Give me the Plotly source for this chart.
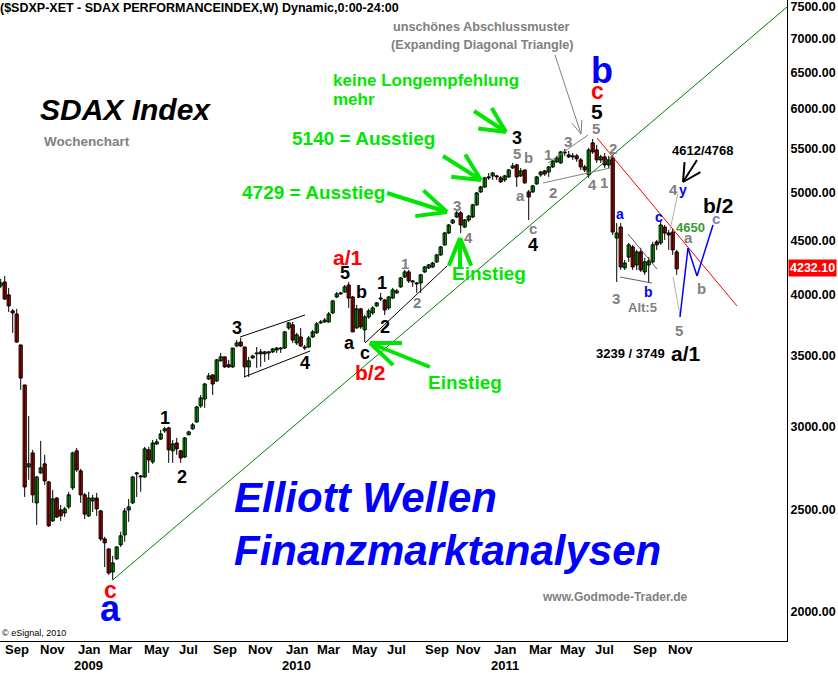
import math
import pandas as pd
import plotly.graph_objects as go

# ---------------- data (weekly SDAX candles) ----------------
start_week = "2008-08-04"
opens = [4078,4113,3998,3861,3835,3584,3284,2746,2831,2538,
         2710,2764,2657,2440,2565,2499,2483,2516,2623,2844,
         2722,2583,2467,2549,2565,2494,2346,2295,2183,2246,
         2316,2367,2499,2538,2710,2692,2686,2850,2776,2887,
         2918,2971,2990,2844,2893,2844,2806,2945,2984,3029,
         3137,3185,3327,3357,3313,3462,3492,3432,3416,3576,
         3607,3568,3416,3484,3515,3530,3515,3522,3530,3545,
         3553,3560,3720,3745,3600,3647,3568,3568,3647,3680,
         3761,3769,3769,3844,3980,4007,4024,4086,3980,3720,
         3878,3704,3810,3844,3903,3962,3954,3886,3971,4016,
         4069,4158,4204,4122,4104,4104,4204,4241,4250,4297,
         4363,4460,4577,4678,4740,4783,4637,4709,4740,4867,
         5007,5062,5163,5185,5185,5163,5140,5174,5276,5311,
         5185,5253,5007,5007,5096,5197,5242,5230,5288,5347,
         5335,5452,5429,5405,5417,5370,5288,5197,5573,5488,
         5370,5405,5311,5393,4527,4637,4241,4343,4440,4269,
         4392,4204,4269,4297,4489,4479,4637,4577,4587,4392]
highs = [4140,4167,4060,3878,3878,3584,3284,3069,2850,2692,
         2906,2819,2663,2611,2571,2527,2516,2600,2838,2862,
         2734,2594,2600,2583,2594,2499,2357,2300,2261,2310,
         2383,2510,2560,2692,2716,2698,2869,2869,2912,2918,
         2977,2997,2997,2912,2925,2850,2931,2971,3023,3137,
         3213,3299,3372,3357,3477,3522,3492,3469,3560,3623,
         3639,3568,3492,3507,3568,3553,3537,3537,3560,3568,
         3568,3696,3769,3769,3680,3720,3584,3655,3704,3769,
         3785,3802,3852,3954,4024,4024,4086,4113,3989,3912,
         3886,3827,3878,3903,3937,4016,3962,3989,4060,4051,
         4158,4222,4222,4131,4113,4186,4259,4278,4297,4373,
         4450,4588,4668,4719,4804,4804,4719,4761,4878,5007,
         5073,5174,5219,5230,5197,5185,5197,5265,5335,5323,
         5276,5253,5029,5085,5185,5242,5253,5300,5370,5417,
         5476,5500,5476,5452,5441,5393,5311,5512,5622,5549,
         5429,5452,5417,5429,4678,4678,4315,4479,4460,4411,
         4431,4334,4343,4489,4508,4689,4658,4607,4617,4411]
lows = [4060,3954,3852,3680,3600,3249,2571,2669,2538,2419,
        2704,2640,2409,2435,2456,2440,2461,2505,2611,2716,
        2538,2450,2461,2488,2467,2336,2206,2169,2145,2241,
        2305,2331,2435,2532,2571,2600,2681,2710,2764,2881,
        2912,2958,2770,2770,2819,2770,2800,2945,2977,3023,
        3124,3124,3320,3213,3306,3454,3409,3409,3409,3568,
        3568,3342,3342,3477,3409,3416,3454,3469,3522,3522,
        3522,3553,3704,3600,3584,3568,3545,3560,3639,3672,
        3753,3761,3761,3835,3971,3998,4016,3886,3688,3712,
        3712,3607,3794,3827,3895,3946,3827,3869,3962,4007,
        4060,4149,4104,4069,4016,4016,4195,4231,4241,4287,
        4354,4450,4568,4668,4730,4577,4627,4689,4730,4856,
        4996,5051,5140,5140,5140,5107,5118,5163,5265,5062,
        5174,5096,4709,4996,5085,5174,5185,5174,5276,5335,
        5323,5417,5393,5370,5347,5253,5230,5163,5441,5335,
        5335,5276,5276,4558,4113,4222,4222,4297,4222,4222,
        4204,4177,4104,4278,4411,4460,4508,4411,4363,4177]
closes = [4104,3962,3903,3844,3607,3334,2628,2764,2583,2686,
          2740,2663,2414,2560,2461,2467,2505,2583,2831,2728,
          2583,2477,2565,2565,2505,2346,2326,2178,2226,2305,
          2362,2494,2516,2686,2704,2686,2856,2788,2893,2900,
          2951,2984,2850,2887,2856,2800,2925,2964,3010,3130,
          3192,3291,3350,3291,3469,3492,3416,3416,3560,3600,
          3576,3416,3462,3499,3522,3515,3530,3530,3553,3560,
          3560,3688,3761,3623,3664,3576,3560,3639,3688,3753,
          3769,3785,3835,3946,4007,4016,4069,3971,3688,3878,
          3729,3810,3861,3886,3929,3971,3869,3980,4042,4033,
          4149,4204,4122,4113,4095,4177,4250,4269,4287,4363,
          4440,4577,4658,4709,4783,4658,4709,4750,4867,4996,
          5062,5163,5174,5219,5174,5118,5185,5253,5300,5174,
          5242,5107,4952,5073,5174,5230,5208,5288,5358,5393,
          5464,5464,5405,5417,5382,5288,5253,5488,5464,5370,
          5405,5311,5370,4587,4577,4250,4287,4460,4250,4392,
          4222,4297,4306,4460,4460,4658,4577,4558,4411,4232.1]

month_tick_dates = ["2008-09-01","2008-11-03","2009-01-05","2009-03-02","2009-05-04",
                    "2009-06-29","2009-08-31","2009-11-02","2010-01-04","2010-03-01",
                    "2010-05-03","2010-06-28","2010-09-06","2010-11-01","2011-01-03",
                    "2011-03-07","2011-05-02","2011-06-27","2011-09-05","2011-11-07"]
month_tick_labels = ["Sep","Nov","Jan","Mar","May","Jul","Sep","Nov",
                     "Jan","Mar","May","Jul","Sep","Nov","Jan",
                     "Mar","May","Jul","Sep","Nov"]
year_tick_dates = ["2009-01-05","2010-01-04","2011-01-03"]
year_tick_labels = ["2009","2010","2011"]
price_ticks = [2000,2500,3000,3500,4000,4500,5000,5500,6000,6500,7000,7500]
last_price = 4232.10

# ---------------- figure ----------------
FONT = "Liberation Sans, Arial, sans-serif"
GREEN_TXT = "#00e600"
GRAY = "#808080"

dates = pd.date_range(start_week, periods=len(closes), freq="7D")

fig = go.Figure()

# wicks
wx, wy = [], []
for d, h, l in zip(dates, highs, lows):
    wx += [d, d, None]
    wy += [l, h, None]
fig.add_trace(go.Scatter(x=wx, y=wy, mode="lines", line=dict(color="black", width=1),
                         hoverinfo="skip"))

# bodies
base, length, colors = [], [], []
for o, c in zip(opens, closes):
    lo = min(o, c)
    base.append(lo)
    length.append(max(abs(c - o), lo * 0.002))
    colors.append("#00e000" if c >= o else "#f00000")
fig.add_trace(go.Bar(x=dates, y=length, base=base, width=5.6 * 86400000,
                     marker=dict(color=colors, line=dict(color="black", width=1)),
                     hoverinfo="skip"))

# ---------------- overlays (positions in plot-area pixels -> paper) ----------------
PW, PH = 787.0, 641.0


def pp(x, y):
    return x / PW, 1 - y / PH


shapes = []


def seg(x0, y0, x1, y1, color, width=1):
    a, b = pp(x0, y0)
    c, d = pp(x1, y1)
    shapes.append(dict(type="line", xref="paper", yref="paper", x0=a, y0=b, x1=c, y1=d,
                       line=dict(color=color, width=width)))


def varrow(x0, y0, x1, y1, color, width, head, ang):
    seg(x0, y0, x1, y1, color, width)
    th = math.atan2(y0 - y1, x0 - x1)
    for s in (-1, 1):
        t = th + s * math.radians(ang)
        seg(x1, y1, x1 + head * math.cos(t), y1 + head * math.sin(t), color, width)


# trend lines & patterns
seg(112.7, 580, 787, 7, "#008000", 1)
seg(597, 138, 737, 306, "#ff0000", 1)
seg(240, 337, 305, 315, "black", 1)
seg(244, 377, 310, 351, "black", 1)
seg(365, 343, 447, 266, "black", 1)
seg(548, 163, 588, 135, GRAY, 1)
seg(543, 183, 610, 168, GRAY, 1)
seg(628, 234, 657, 269, "#606060", 1)
seg(620, 277, 652, 283, "#606060", 1)
seg(670, 230, 678, 193, "#b0b0b0", 1)
seg(673, 277, 680, 315, "#b0b0b0", 1)
# projected zigzag
seg(680, 317, 688, 248, "#0000ff", 1.5)
seg(688, 248, 697, 276, "#0000ff", 1.5)
seg(697, 276, 713, 225, "#0000ff", 1.5)
# arrows
varrow(555, 55, 581, 134, GRAY, 1, 14, 22)
varrow(697, 160, 683, 182, "black", 2, 20, 28)
varrow(474, 111, 506, 132, GREEN_TXT, 4, 28, 26)
varrow(443, 156, 481, 180, GREEN_TXT, 4, 30, 26)
varrow(387, 193, 447, 212, GREEN_TXT, 4, 32, 25)
varrow(460, 268, 460, 238, GREEN_TXT, 4, 30, 22)
varrow(430, 367, 370, 343, GREEN_TXT, 4, 32, 22)

annots = []


def txt(x, y, s, size, color, bold=True, italic=False, anchor="center"):
    a, b = pp(x, y)
    annots.append(dict(x=a, y=b, xref="paper", yref="paper", text=s, showarrow=False,
                       xanchor=anchor, yanchor="middle",
                       font=dict(family=FONT, size=size, color=color,
                                 weight="bold" if bold else "normal",
                                 style="italic" if italic else "normal")))


txt(-2, 8, "($SDXP-XET - SDAX PERFORMANCEINDEX,W) Dynamic,0:00-24:00", 12.5, "black", anchor="left")
txt(38, 110, "SDAX Index", 30, "black", italic=True, anchor="left")
txt(42, 141, "Wochenchart", 13.5, GRAY, anchor="left")
txt(391, 27, "unschönes Abschlussmuster", 12.7, GRAY, anchor="left")
txt(389, 45, "(Expanding Diagonal Triangle)", 12.7, GRAY, anchor="left")
txt(331, 80, "keine Longempfehlung", 17, GREEN_TXT, anchor="left")
txt(331, 100, "mehr", 17, GREEN_TXT, anchor="left")
txt(290, 138, "5140 = Ausstieg", 19, GREEN_TXT, anchor="left")
txt(240, 193, "4729 = Ausstieg", 19, GREEN_TXT, anchor="left")
txt(450, 273, "Einstieg", 19, GREEN_TXT, anchor="left")
txt(426, 382, "Einstieg", 19, GREEN_TXT, anchor="left")
txt(232, 497, "Elliott Wellen", 42, "#0000ff", italic=True, anchor="left")
txt(232, 550, "Finanzmarktanalysen", 42, "#0000ff", italic=True, anchor="left")
txt(615, 597, "www.Godmode-Trader.de", 12, GRAY)
txt(0, 633, "© eSignal, 2010", 9, "black", bold=False, anchor="left")

for x, y, s in [(165, 418, "1"), (182, 477, "2"), (237, 328, "3"), (305, 363, "4"),
                (345, 273, "5"), (361, 292, "b"), (382, 283, "1"), (349, 343, "a"),
                (365, 353, "c"), (385, 327, "2"), (517, 138, "3"), (533, 245, "4")]:
    txt(x, y, s, 18, "black")
for x, y, s in [(597, 111, "5"), (718, 205, "b/2"), (686, 353, "a/1")]:
    txt(x, y, s, 21, "black")
txt(630, 353, "3239 / 3749", 13, "black")
txt(702, 150, "4612/4768", 13, "black")
txt(348, 258, "a/1", 21, "#ff0000")
txt(370, 372, "b/2", 21, "#ff0000")
txt(110, 590, "c", 23, "#ff0000")
txt(597, 91, "c", 23, "#ff0000")
txt(110, 608, "a", 36, "#0000ff")
txt(602, 71, "b", 36, "#0000ff")
for x, y, s in [(620, 214, "a"), (659, 217, "c"), (648, 292, "b"), (683, 190, "y")]:
    txt(x, y, s, 14, "#0000ff")
for x, y, s in [(405, 263, "1"), (417, 303, "2"), (457, 205, "3"), (468, 238, "4"),
                (517, 153, "5"), (528, 158, "b"), (520, 195, "a"), (533, 228, "c"),
                (548, 155, "1"), (553, 193, "2"), (568, 142, "3"), (596, 128, "5"),
                (592, 184, "4"), (604, 182, "1"), (613, 149, "2"), (616, 298, "3"),
                (673, 189, "4"), (679, 330, "5"), (688, 238, "a"), (701, 288, "b")]:
    txt(x, y, s, 15, GRAY)
txt(716, 218, "c", 15, "#8080b8")
txt(642, 307, "Alt:5", 13, GRAY)
txt(690, 227, "4650", 13, "#3a9a3a")

# last price tag on the price axis
a, b = pp(812, 268)
annots.append(dict(x=a, y=b, xref="paper", yref="paper", text=f"{last_price:.2f}",
                   showarrow=False, xanchor="center", yanchor="middle",
                   bgcolor="#ff0000", borderpad=1,
                   font=dict(family=FONT, size=12.5, color="white", weight="bold")))

# x-axis (month / year) labels
tick_font = dict(family=FONT, size=13, color="black", weight="bold")
for d, s in zip(month_tick_dates, month_tick_labels):
    annots.append(dict(x=d, y=1 - 650 / PH, xref="x", yref="paper", text=s,
                       showarrow=False, xanchor="center", yanchor="middle", font=tick_font))
for d, s in zip(year_tick_dates, year_tick_labels):
    annots.append(dict(x=d, y=1 - 665 / PH, xref="x", yref="paper", text=s,
                       showarrow=False, xanchor="center", yanchor="middle", font=tick_font))

y_lo, y_hi = 1877, 7615
fig.update_layout(
    width=838, height=673,
    margin=dict(l=0, r=51, t=0, b=32),
    paper_bgcolor="white", plot_bgcolor="white",
    showlegend=False, barmode="overlay",
    shapes=shapes, annotations=annots,
    xaxis=dict(type="date", range=["2008-08-02 19:00", "2012-05-11"],
               tickvals=month_tick_dates, showticklabels=False,
               showgrid=False, zeroline=False, showline=True, linecolor="black",
               linewidth=1, ticks="", automargin=False),
    yaxis=dict(type="log", side="right",
               range=[math.log10(y_lo), math.log10(y_hi)],
               tickvals=price_ticks, ticktext=[f"{v:.2f}" for v in price_ticks],
               showgrid=False, zeroline=False, showline=True, linecolor="black",
               linewidth=1, ticks="", automargin=False,
               tickfont=dict(family=FONT, size=12.5, color="black", weight="bold")),
)

fig.write_html("out.html", config={"displayModeBar": False},
               post_script="document.body.style.margin='0';document.body.style.overflow='hidden';")
